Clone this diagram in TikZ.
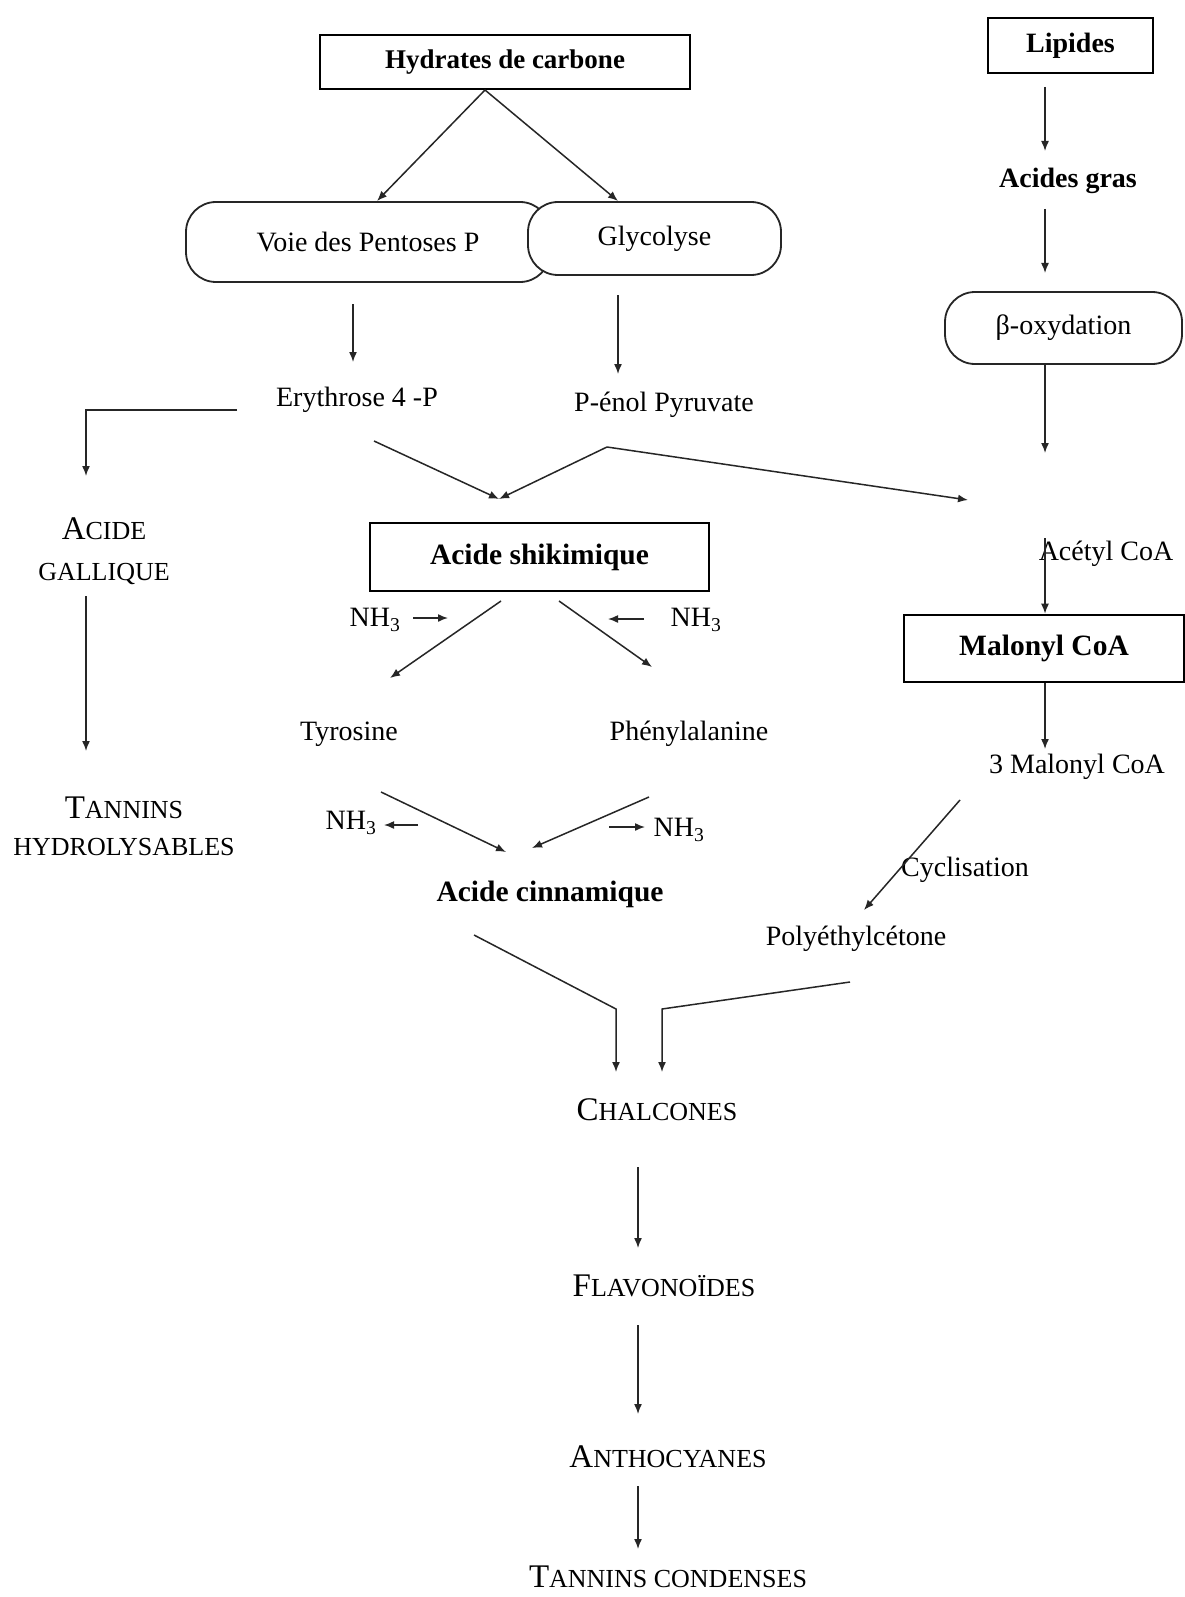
\documentclass[tikz,border=0pt]{standalone}
\usepackage{fontspec}
\setmainfont{Liberation Serif}
\usetikzlibrary{arrows.meta}
\newcommand{\myfsc}[2]{{\fontsize{33}{36}\selectfont #1}{\fontsize{26}{30}\selectfont #2}}
\begin{document}
\begin{tikzpicture}[x=1pt,y=-1pt,
  every node/.style={inner sep=0pt,font=\fontsize{28}{32}\selectfont},
  boxn/.style={draw,line width=2.6pt,font=\fontsize{29.5}{33}\selectfont\bfseries},
  pill/.style={draw=black!85,line width=1.8pt,rounded corners=30pt},
  bld/.style={font=\fontsize{29.5}{33}\selectfont\bfseries},
  scn/.style={font=\fontsize{26}{30}\selectfont},
  arr/.style={line width=1.5pt,draw=black!85,-{Latex[length=10pt,width=8pt]}},
  ln/.style={line width=1.5pt,draw=black!85}]
\useasboundingbox (0,0) rectangle (1185,1597);
\fill[white] (0,0) rectangle (1185,1597);

% boxes
\node[boxn,font=\fontsize{27}{30}\selectfont\bfseries,minimum width=370pt,minimum height=54pt] (hyd) at (505,62) {Hydrates de carbone};
\node[boxn,font=\fontsize{28}{32}\selectfont\bfseries,minimum width=165pt,minimum height=55pt] (lip) at (1070.5,45.5) {Lipides};
\node[pill,minimum width=364pt,minimum height=80pt] (voie) at (368,242) {Voie des Pentoses P};
\node[pill,fill=white,minimum width=253pt,minimum height=73pt] (gly) at (654.5,238.5) {Glycolyse};
\node[font=\fontsize{28}{32}\selectfont\bfseries] (agras) at (1068,181) {Acides gras};
\node[pill,minimum width=237pt,minimum height=72pt] (box) at (1063.5,328) {β-oxydation};
\node (ery) at (357,400) {Erythrose 4 -P};
\node (pep) at (664,405) {P-énol Pyruvate};
\node[scn,align=center,font=\fontsize{26}{41}\selectfont] (gall) at (104,551) {\myfsc{A}{CIDE}\\GALLIQUE};
\node[scn,align=center,font=\fontsize{26}{37}\selectfont] (tanh) at (124,826) {\myfsc{T}{ANNINS}\\HYDROLYSABLES};
\node[boxn,minimum width=339pt,minimum height=68pt] (shik) at (539.5,557) {Acide shikimique};
\node (acet) at (1106,554) {Acétyl CoA};
\node[boxn,minimum width=280pt,minimum height=67pt] (mal) at (1044,648.5) {Malonyl CoA};
\node (mal3) at (1077,767) {3 Malonyl CoA};
\node (cyc) at (965,870) {Cyclisation};
\node (poly) at (856,939) {Polyéthylcétone};
\node (tyr) at (349,734) {Tyrosine};
\node (phe) at (689,734) {Phénylalanine};
\node (nha) at (375,620) {NH\textsubscript{3}};
\node (nhb) at (696,620) {NH\textsubscript{3}};
\node (nhc) at (351,823) {NH\textsubscript{3}};
\node (nhd) at (679,830) {NH\textsubscript{3}};
\node[bld] (cin) at (550,894) {Acide cinnamique};
\node (chal) at (657,1110) {\myfsc{C}{HALCONES}};
\node (flav) at (664,1286) {\myfsc{F}{LAVONOÏDES}};
\node (anth) at (668,1457) {\myfsc{A}{NTHOCYANES}};
\node (tanc) at (668,1577) {\myfsc{T}{ANNINS CONDENSES}};

% coordinates
\coordinate (hs) at (485,90);
\coordinate (shikin) at (499,499);
\coordinate (pepout) at (607,447);
\coordinate (acetin) at (968,500);
\coordinate (boxout) at (1045,453);
\coordinate (chl) at (616,1009);
\coordinate (chr) at (662,1009);

% arrows
\draw[arr] (hs) -- (377,201);
\draw[arr] (hs) -- (618,201);
\draw[arr] (353,304) -- (353,362);
\draw[arr] (618,295) -- (618,374);
\draw[arr] (1045,87) -- (1045,151);
\draw[arr] (1045,209) -- (1045,273);
\draw[arr] (1045,364) -- (boxout);
\draw[arr] (237,410) -- (86,410) -- (86,476);
\draw[arr] (86,596) -- (86,751);
\draw[arr] (374,441) -- (shikin);
\draw[arr] (pepout) -- (shikin);
\draw[arr] (pepout) -- (acetin);
\draw[arr] (1045,538) -- (mal.north -| 1045,0);
\draw[arr] (mal.south -| 1045,0) -- (1045,749);
\draw[arr] (960,800) -- (864,910);
\draw[arr] (501,601) -- (390,678);
\draw[arr] (559,601) -- (652,667);
\draw[arr] (413,618) -- (448,618);
\draw[arr] (644,619) -- (608,619);
\draw[arr] (381,792) -- (506,852);
\draw[arr] (649,797) -- (532,848);
\draw[arr] (418,825) -- (384,825);
\draw[arr] (609,827) -- (645,827);
\draw[arr] (474,935) -- (chl) -- (616,1072);
\draw[arr] (850,982) -- (chr) -- (662,1072);
\draw[arr] (638,1167) -- (638,1248);
\draw[arr] (638,1325) -- (638,1414);
\draw[arr] (638,1486) -- (638,1549);
\end{tikzpicture}
\end{document}
